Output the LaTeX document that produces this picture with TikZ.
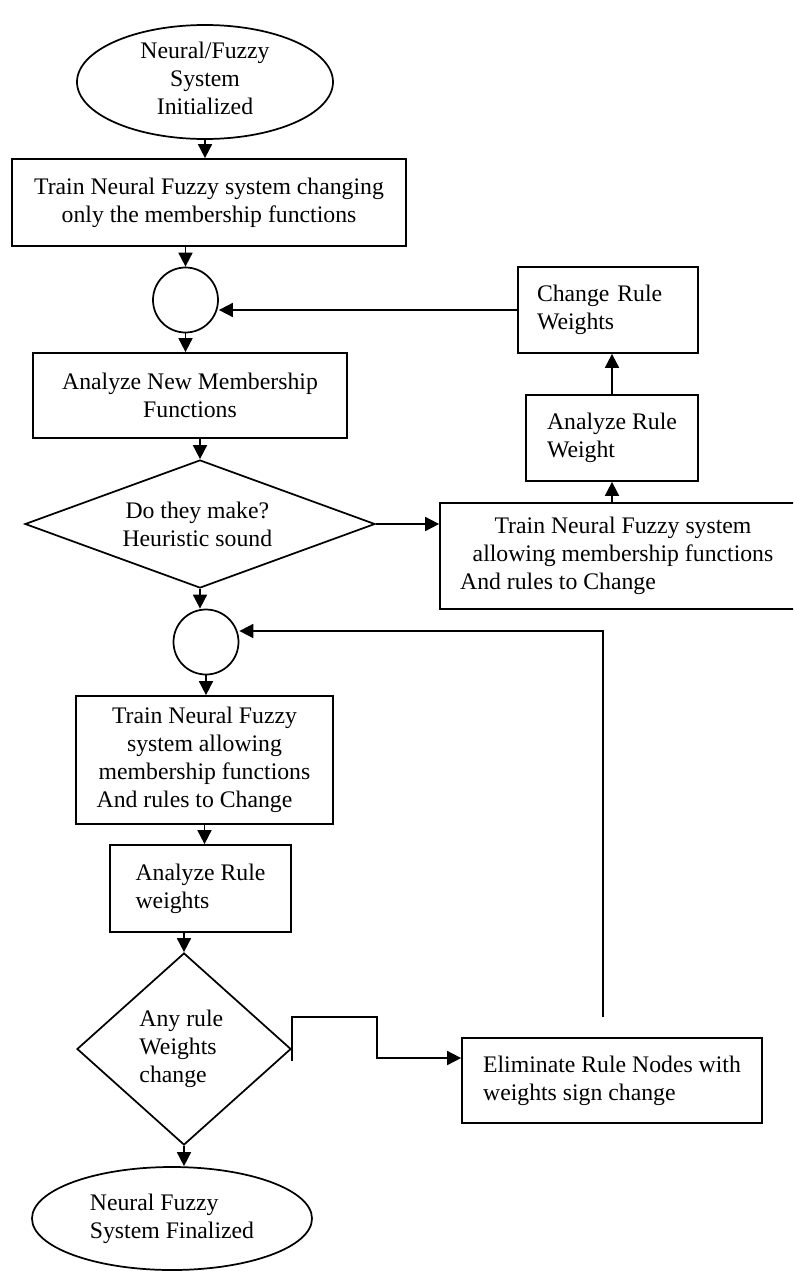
\documentclass[tikz,border=0pt]{standalone}
\usepackage{fontspec}
\setmainfont{Liberation Serif}
\usetikzlibrary{arrows.meta,shapes.geometric,calc}
\begin{document}
\begin{tikzpicture}[x=0.75pt,y=-0.75pt,
  font=\fontsize{17.8pt}{21pt}\selectfont,
  shp/.style={draw, line width=1.3pt, inner sep=0pt},
  box/.style={shp, rectangle},
  arr/.style={line width=1.3pt, -{Triangle[length=10.5pt,width=10.5pt]}}]
\useasboundingbox (0,0) rectangle (793,1271);
\clip (0,0) rectangle (793,1271);

% left column
\node[shp, ellipse, minimum width=192pt, minimum height=85.5pt,
  label={[align=center,yshift=3pt]center:Neural/Fuzzy\\System\\Initialized}] (e1) at (205,82) {};
\node[box, minimum width=295.5pt, minimum height=65.25pt, align=center] (b1) at (209,202.5)
  {Train Neural Fuzzy system changing\\only the membership functions};
\node[shp, circle, minimum size=48.75pt] (c1) at (185.5,300) {};
\node[box, minimum width=235.5pt, minimum height=63.75pt, align=center] (b2) at (190,395.5)
  {Analyze New Membership\\Functions};
\node[shp, diamond, minimum width=262.5pt, minimum height=96pt,
  label={[align=center,xshift=-2pt]center:Do they make?\\Heuristic sound}] (d1) at (200,524) {};
\node[shp, circle, minimum size=48.75pt] (c2) at (206,642) {};
\node[box, minimum width=192.75pt, minimum height=96pt, align=center] (b3) at (204.5,760)
  {Train Neural Fuzzy\\system allowing\\membership functions\\And rules to Change\hspace*{15pt}};
\node[box, minimum width=135.75pt, minimum height=65.25pt, align=left] (b4) at (200.5,888.5)
  {Analyze Rule\\weights};
\node[shp, diamond, minimum width=160.5pt, minimum height=144pt,
  label={[align=left,xshift=-2pt]center:Any rule\\Weights\\change}] (d2) at (184,1049) {};
\node[shp, ellipse, minimum width=210pt, minimum height=77.25pt,
  label={[align=left]center:Neural Fuzzy\\System Finalized}] (e2) at (172,1218.5) {};

% right column
\node[box, minimum width=135pt, minimum height=64.5pt, text width=106.5pt, inner xsep=14.25pt, align=left] (crw) at (608,310)
  {Change Rule\\Weights};
\node[box, minimum width=129pt, minimum height=64.5pt, align=left] (arw) at (612,438)
  {Analyze Rule\\Weight};
\node[box, minimum width=274.5pt, minimum height=79.5pt, align=center] (b5) at (623,556)
  {Train Neural Fuzzy system\\allowing membership functions\\And rules to Change\hspace*{97.5pt}};
\node[box, minimum width=225pt, minimum height=63.75pt, align=left] (elim) at (612,1080.5)
  {Eliminate Rule Nodes with\\weights sign change};

\coordinate (k1) at (291,1017);
\coordinate (k2) at (377,1017);
\coordinate (g) at (603,1017);

% connectors
\draw[arr] (e1.south) -- (e1.south |- b1.north);
\draw[arr] (b1.south -| c1) -- (c1.north);
\draw[arr] (c1.south) -- (c1.south |- b2.north);
\draw[arr] (d1.north |- b2.south) -- (d1.north);
\draw[arr] (d1.south) -- (d1.south |- c2.north);
\draw[arr] (c2.south) -- (c2.south |- b3.north);
\draw[arr] (b3.south) -- (b3.south |- b4.north);
\draw[arr] (d2.north |- b4.south) -- (d2.north);
\draw[arr] (d2.south) -- (d2.south |- e2.north);
\draw[arr] (d1.east) -- (d1.east -| b5.west);
\draw[arr] (arw.south |- b5.north) -- (arw.south);
\draw[arr] (arw.north) -- (arw.north |- crw.south);
\draw[arr] (crw.west) -- (crw.west -| c1.east);
\draw[arr] ($(d2.east)+(0,12)$) -- (d2.east |- k1) -- (k2) |- ($(elim.west)+(0,-22.5)$);
\draw[arr] (g) |- ($(c2.east)+(0,-11)$);
\end{tikzpicture}
\end{document}
